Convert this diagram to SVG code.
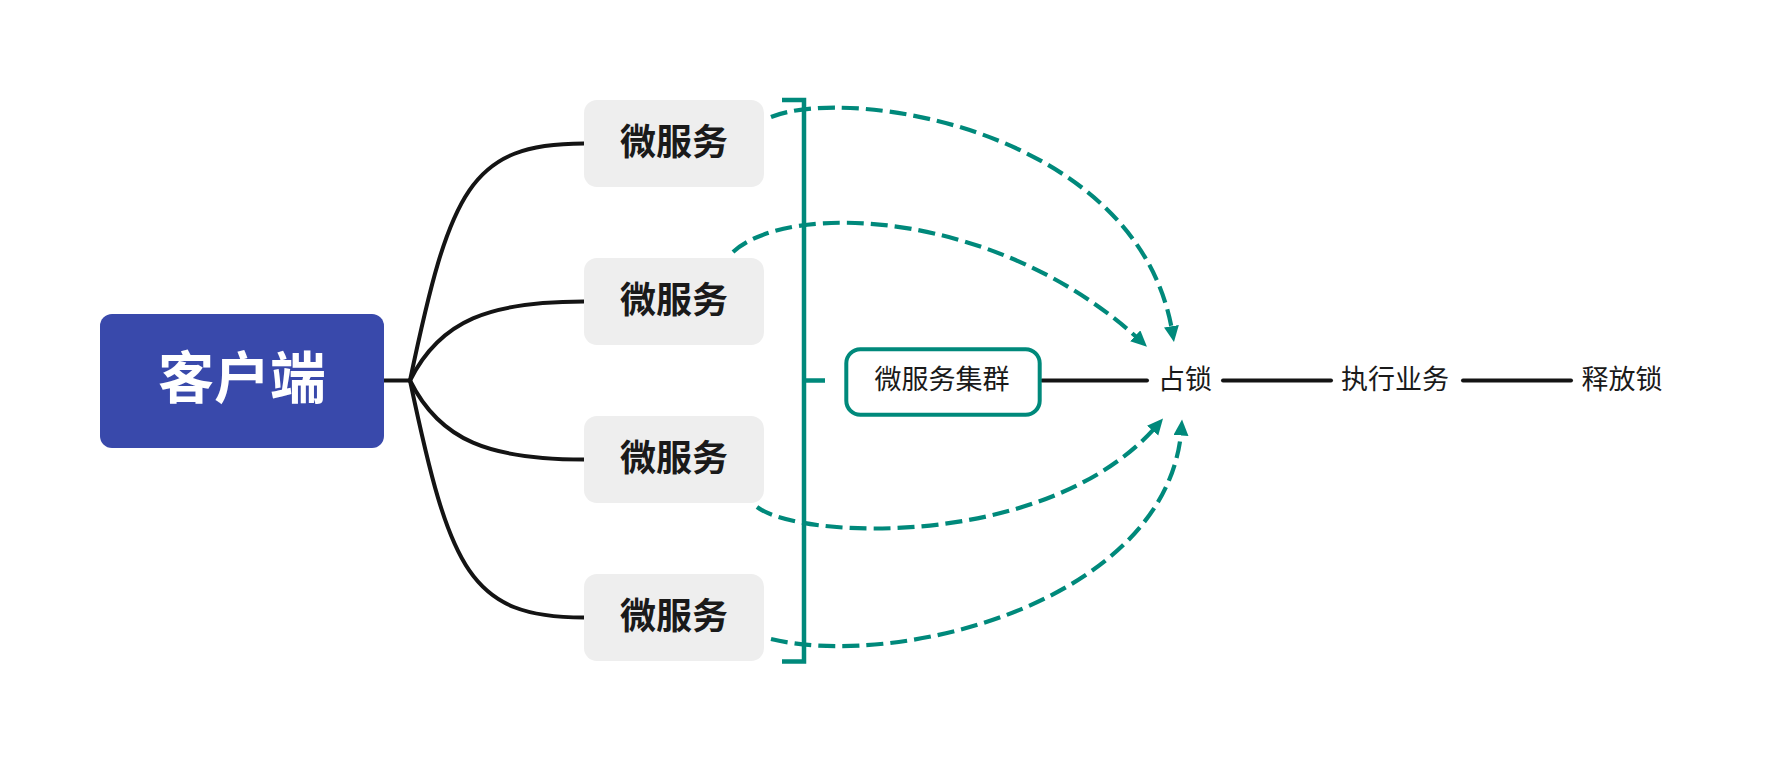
<svg xmlns="http://www.w3.org/2000/svg" width="1776" height="762" viewBox="0 0 1776 762">
<style>
.cjk{font-family:"Noto Sans CJK SC","Noto Sans",sans-serif;text-anchor:middle;dominant-baseline:central}
.svc rect{fill:#EEEEEE}
.svc text{font-size:36px;font-weight:bold;fill:#1a1a1a}
.lbl{font-size:27px;fill:#1a1a1a}
.solid{fill:none;stroke:#141414;stroke-width:4;stroke-linecap:round}
.dash{fill:none;stroke:#00897B;stroke-width:4.2;stroke-dasharray:17 7}
.bracket{fill:none;stroke:#00897B;stroke-width:4.5}
</style>
<defs>
<marker id="arr" markerUnits="userSpaceOnUse" markerWidth="17" markerHeight="16" refX="8" refY="7.5" orient="auto">
<path d="M0,0 L16,7.5 L0,15 z" fill="#00897B"/>
</marker>
</defs>
<rect width="1776" height="762" fill="#ffffff"/>
<g id="connectors">
<path class="solid" d="M384 380.5 H410"/>
<path class="solid" d="M410 380.5 C450 190 470 143.5 584 143.5"/>
<path class="solid" d="M410 380.5 C440 320 490 301.5 584 301.5"/>
<path class="solid" d="M410 380.5 C440 441 490 459.5 584 459.5"/>
<path class="solid" d="M410 380.5 C450 571 470 617.5 584 617.5"/>
<path class="bracket" d="M782 100 H804 V661.5 H782"/>
<path class="bracket" d="M804 380.5 H825"/>
<path class="solid" d="M1042 380.5 H1147"/>
<path class="solid" d="M1223 380.5 H1331"/>
<path class="solid" d="M1463 380.5 H1571"/>
<path class="dash" marker-end="url(#arr)" d="M771 117 C850 85 1140 130 1172.7 334.1"/>
<path class="dash" marker-end="url(#arr)" d="M733 252 C790 200 1000 210 1141.1 341.3"/>
<path class="dash" marker-end="url(#arr)" d="M757 507 C800 540 1050 550 1157.8 424.6"/>
<path class="dash" marker-end="url(#arr)" d="M771 639 C900 670 1170 600 1181.5 427.5"/>
</g>
<g id="client">
<rect x="100" y="314" width="284" height="134" rx="12" fill="#3949AB"/>
<text class="cjk" x="242" y="380.5" dy="-0.13em" font-size="56" font-weight="bold" fill="#ffffff">客户端</text>
</g>
<g id="svc1" class="svc">
<rect x="584" y="100" width="180" height="87" rx="13"/>
<text class="cjk" x="674" y="143.5" dy="-0.12em">微服务</text>
</g>
<g id="svc2" class="svc">
<rect x="584" y="258" width="180" height="87" rx="13"/>
<text class="cjk" x="674" y="301.5" dy="-0.12em">微服务</text>
</g>
<g id="svc3" class="svc">
<rect x="584" y="416" width="180" height="87" rx="13"/>
<text class="cjk" x="674" y="459.5" dy="-0.12em">微服务</text>
</g>
<g id="svc4" class="svc">
<rect x="584" y="574" width="180" height="87" rx="13"/>
<text class="cjk" x="674" y="617.5" dy="-0.12em">微服务</text>
</g>
<g id="cluster">
<rect x="846.3" y="349.3" width="193.4" height="65.4" rx="14" fill="#ffffff" stroke="#00897B" stroke-width="4"/>
<text class="cjk lbl" x="942" y="380.5" dy="-0.1em" font-size="28">微服务集群</text>
</g>
<g id="lock">
<text class="cjk lbl" x="1185" y="380.5" dy="-0.1em">占锁</text>
</g>
<g id="exec">
<text class="cjk lbl" x="1395" y="380.5" dy="-0.1em">执行业务</text>
</g>
<g id="release">
<text class="cjk lbl" x="1622" y="380.5" dy="-0.1em">释放锁</text>
</g>
</svg>
